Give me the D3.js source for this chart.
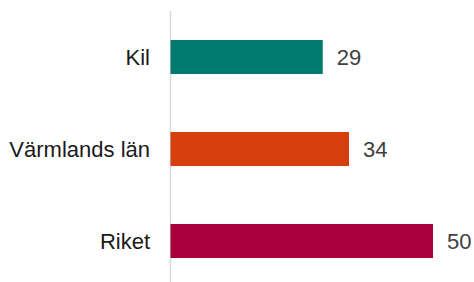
<!DOCTYPE html>
<html>
<head>
<meta charset="utf-8">
<script src="https://cdn.jsdelivr.net/npm/d3@7"></script>
<style>
  html, body { margin: 0; padding: 0; background: #fff; }
  svg { display: block; }
  text { font-family: "Liberation Sans", Arial, sans-serif; }
</style>
</head>
<body>
<svg id="chart" width="474" height="282"></svg>
<script>
const categories = ["Kil", "Värmlands län", "Riket"];
const values = [29, 34, 50];
const colors = ["#007A6C", "#D6400F", "#A8003A"];

const width = 474, height = 282;
const svg = d3.select("#chart");

const x = d3.scaleLinear().domain([0, 50]).range([170.5, 433]);
const y = d3.scaleBand().domain(categories).range([11, 287]).paddingInner(0.63).paddingOuter(0.315);

// axis line
svg.append("line")
  .attr("x1", 170.5).attr("x2", 170.5)
  .attr("y1", 11).attr("y2", height)
  .attr("stroke", "#d9d9d9").attr("stroke-width", 1.5);

const data = categories.map((c, i) => ({ c, v: values[i], col: colors[i] }));

svg.selectAll("rect.bar").data(data).join("rect")
  .attr("class", "bar")
  .attr("x", x(0))
  .attr("y", d => y(d.c))
  .attr("width", d => x(d.v) - x(0))
  .attr("height", y.bandwidth())
  .attr("fill", d => d.col);

svg.selectAll("text.cat").data(data).join("text")
  .attr("class", "cat")
  .attr("x", 150)
  .attr("y", d => y(d.c) + y.bandwidth() / 2)
  .attr("dy", "0.35em")
  .attr("text-anchor", "end")
  .attr("font-size", 22)
  .attr("fill", "#1a1a1a")
  .text(d => d.c);

svg.selectAll("text.val").data(data).join("text")
  .attr("class", "val")
  .attr("x", d => x(d.v) + 14)
  .attr("y", d => y(d.c) + y.bandwidth() / 2)
  .attr("dy", "0.35em")
  .attr("font-size", 22)
  .attr("fill", "#404040")
  .text(d => d.v);
</script>
</body>
</html>
